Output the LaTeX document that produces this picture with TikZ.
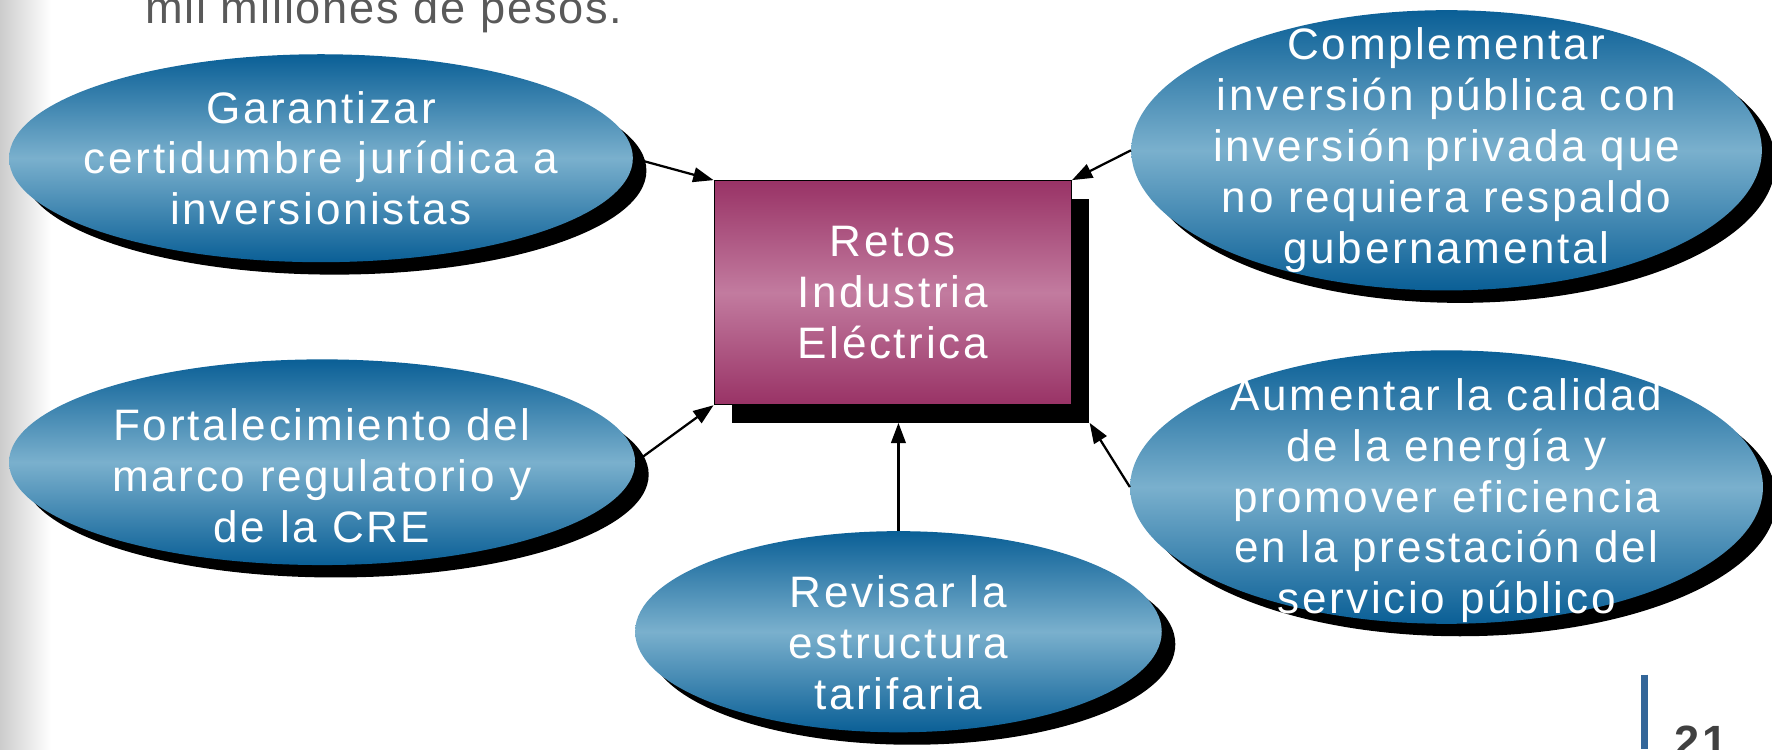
\documentclass[tikz,border=0pt]{standalone}
\usepackage{fontspec}
\newfontfamily\slidefont[LetterSpace=6]{Liberation Sans}
\newfontfamily\introfont[LetterSpace=4]{Liberation Sans}
\usetikzlibrary{arrows.meta,shapes.geometric,shadows}
\definecolor{ovaldark}{RGB}{10,95,150}
\definecolor{ovallight}{RGB}{122,176,205}
\definecolor{boxdark}{RGB}{153,51,102}
\definecolor{boxlight}{RGB}{194,123,159}
\definecolor{pagegray}{RGB}{89,89,89}
\definecolor{barblue}{RGB}{51,102,153}
\begin{document}
\begin{tikzpicture}[x=1pt,y=-1pt,
    >={Triangle[length=18pt,width=13pt]},
    oval/.style={ellipse,inner sep=0,top color=ovaldark,bottom color=ovaldark,middle color=ovallight,
      general shadow={fill=black,shadow xshift=12pt,shadow yshift=-11pt}},
    ovaltext/.style={text=white,align=center,font=\slidefont\fontsize{39}{45}\selectfont},
    link/.style={->,line width=2pt}]
    \useasboundingbox (0,0) rectangle (1568,663);
    \shade[left color=black!20,right color=white] (0,0) rectangle (45,663);
    \node at (125,21) [anchor=base west,text=pagegray,font=\introfont\fontsize{40}{46}\selectfont] (intro) {mil millones de pesos.};

    \node at (806,275) [fill=black,minimum width=316pt,minimum height=198pt,inner sep=0] (sombra) {};
    \node at (790,259) [draw=black,line width=1.2pt,top color=boxdark,bottom color=boxdark,middle color=boxlight,
      minimum width=316pt,minimum height=198pt,inner sep=0] (retos) {};
    \node at (retos) [ovaltext] (retostxt) {Retos\\Industria\\Eléctrica};

    \node at (284,140) [oval,minimum width=552pt,minimum height=184pt] (garant) {};
    \node at (garant) [ovaltext] (garanttxt) {Garantizar\\certidumbre jurídica a\\inversionistas};
    \node at (1280,133) [oval,minimum width=558pt,minimum height=248pt] (complem) {};
    \node at (complem) [ovaltext] (complemtxt) {Complementar\\inversión pública con\\inversión privada que\\no requiera respaldo\\gubernamental};
    \node at (285,409) [oval,minimum width=554pt,minimum height=182pt] (fortal) {};
    \node at ([yshift=-12pt]fortal.center) [ovaltext] (fortaltxt) {Fortalecimiento del\\marco regulatorio y\\de la CRE};
    \node at (795,559) [oval,minimum width=466pt,minimum height=178pt] (revisar) {};
    \node at ([yshift=-10pt]revisar.center) [ovaltext] (revisartxt) {Revisar la\\estructura\\tarifaria};
    \node at (1280,431) [oval,minimum width=560pt,minimum height=242pt] (aumentar) {};
    \node at ([yshift=-12pt]aumentar.center) [ovaltext] (aumentartxt) {Aumentar la calidad\\de la energía y\\promover eficiencia\\en la prestación del\\servicio público};

    \draw[link] (garant.east) -- (retos.north west);
    \draw[link] (fortal.east) -- (retos.south west);
    \draw[link] (revisar.north) -- (revisar.north |- sombra.south);
    \draw[link] (aumentar.west) -- (sombra.south east);
    \draw[link] (complem.west) -- (retos.north east);

    \draw[barblue,line width=6pt] (1455,597) -- (1455,663);
    \node at (1478,670) [anchor=base west,text=black!75,font=\slidefont\bfseries\fontsize{40}{48}\selectfont] (pagina) {21};
  \end{tikzpicture}
\end{document}
